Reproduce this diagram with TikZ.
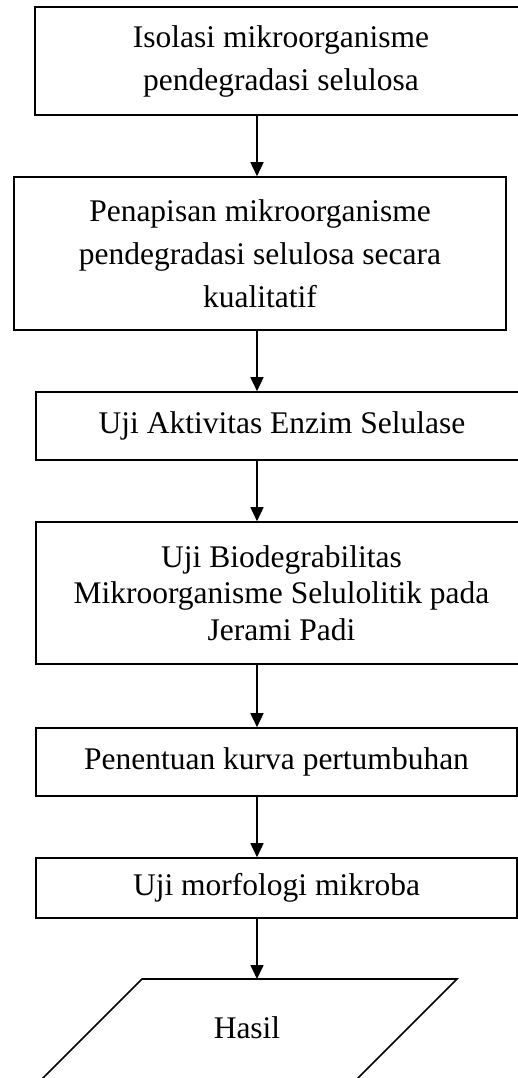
\documentclass[tikz,border=0pt]{standalone}
\usepackage{fontspec}
\setmainfont{Liberation Serif}
\usetikzlibrary{arrows.meta}
\begin{document}
\begin{tikzpicture}[x=1pt,y=1pt,
  box/.style={draw, line width=1.6pt, inner sep=0pt, align=center,
    font=\fontsize{31.5}{43}\selectfont},
  tight/.style={font=\fontsize{31.5}{36.7}\selectfont},
  arr/.style={line width=1.6pt, -{Triangle[width=13pt,length=14pt]}},
  shape line/.style={line width=1.6pt}]
\useasboundingbox (0,0) rectangle (518,-1078);
\clip (0,0) rectangle (518,-1078);
\fill[white] (0,0) rectangle (518,-1078);
\coordinate (ax) at (257,0);
\node[box, minimum width=492pt, minimum height=108pt] (b1) at (281,-61)
  {Isolasi mikroorganisme\\pendegradasi selulosa};
\node[box, minimum width=492pt, minimum height=153pt] (b2) at (260,-253.5)
  {Penapisan mikroorganisme\\pendegradasi selulosa secara\\kualitatif};
\node[box, minimum width=492pt, minimum height=68pt] (b3) at (282,-426)
  {Uji Aktivitas Enzim Selulase};
\node[box, tight, minimum width=491pt, minimum height=142pt] (b4) at (281.5,-593)
  {Uji Biodegrabilitas\\Mikroorganisme Selulolitik pada\\Jerami Padi};
\node[box, minimum width=481pt, minimum height=68pt] (b5) at (276.5,-762)
  {Penentuan kurva pertumbuhan};
\node[box, minimum width=481pt, minimum height=60pt] (b6) at (276.5,-888)
  {Uji morfologi mikroba};
% parallelogram
\coordinate (ptl) at (142,-979);
\coordinate (ptr) at (457,-979);
\coordinate (pbr) at (353,-1083);
\coordinate (pbl) at (38,-1083);
\draw[shape line] (pbl) -- (ptl) -- (ptr) -- (pbr);
\coordinate (ptop) at (257,-979);
\node[font=\fontsize{31.5}{43}\selectfont, inner sep=0pt] (hasil) at (247,-1028) {Hasil};
% arrows
\draw[arr] (b1.south -| ax) -- (b2.north -| ax);
\draw[arr] (b2.south -| ax) -- (b3.north -| ax);
\draw[arr] (b3.south -| ax) -- (b4.north -| ax);
\draw[arr] (b4.south -| ax) -- (b5.north -| ax);
\draw[arr] (b5.south -| ax) -- (b6.north -| ax);
\draw[arr] (b6.south -| ax) -- (ptop);
\end{tikzpicture}
\end{document}
